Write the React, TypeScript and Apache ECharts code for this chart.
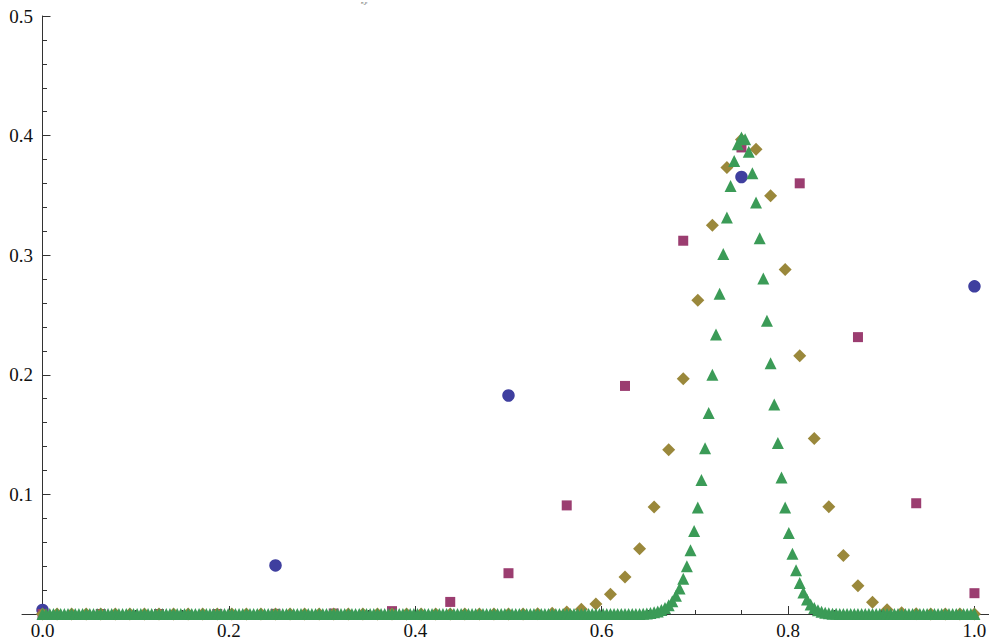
import React, { useEffect, useRef } from "react";
import * as echarts from "echarts";

// Scaled probabilities, one value per k = 0..n, plotted at x = k/n
const circleValues = [0.0034, 0.0406, 0.1827, 0.3654, 0.274]; // n = 4

const squareValues = [
  0, 0, 0, 0, 0.0001, 0.0004, 0.0024, 0.0101, 0.0341, 0.0908, 0.1907, 0.3121,
  0.3901, 0.3601, 0.2315, 0.0926, 0.0174,
]; // n = 16

const diamondValues = [
  0, 0, 0, 0, 0, 0, 0, 0, 0, 0, 0, 0, 0, 0, 0, 0, 0, 0, 0, 0, 0, 0, 0, 0, 0, 0,
  0, 0, 0, 0, 0, 0, 0,
  0.0001, 0.0003, 0.0007, 0.0017, 0.0039, 0.0083, 0.0166, 0.031, 0.0545,
  0.0895, 0.1374, 0.1967, 0.2623, 0.325, 0.3734, 0.3967, 0.3886, 0.3497,
  0.288, 0.216, 0.1467, 0.0897, 0.0489, 0.0236, 0.0099, 0.0036, 0.0011, 0.0003,
  0, 0, 0, 0,
]; // n = 64

const triangleValues = [
  0, 0, 0, 0, 0, 0, 0, 0, 0, 0, 0, 0, 0, 0, 0,
  0, 0, 0, 0, 0, 0, 0, 0, 0, 0, 0, 0, 0, 0, 0,
  0, 0, 0, 0, 0, 0, 0, 0, 0, 0, 0, 0, 0, 0, 0,
  0, 0, 0, 0, 0, 0, 0, 0, 0, 0, 0, 0, 0, 0, 0,
  0, 0, 0, 0, 0, 0, 0, 0, 0, 0, 0, 0, 0, 0, 0,
  0, 0, 0, 0, 0, 0, 0, 0, 0, 0, 0, 0, 0, 0, 0,
  0, 0, 0, 0, 0, 0, 0, 0, 0, 0, 0, 0, 0, 0, 0,
  0, 0, 0, 0, 0, 0, 0, 0, 0, 0, 0, 0, 0, 0, 0,
  0, 0, 0, 0, 0, 0, 0, 0, 0, 0, 0, 0, 0, 0, 0,
  0, 0, 0, 0, 0, 0, 0, 0, 0, 0, 0, 0, 0, 0, 0,
  0, 0, 0, 0, 0, 0, 0, 0, 0, 0, 0, 0, 0, 0, 0,
  0.0003, 0.0005, 0.0008, 0.0014, 0.0021, 0.0033, 0.005, 0.0073, 0.0107,
  0.0153, 0.0214, 0.0295, 0.04, 0.0532, 0.0694, 0.089, 0.1121, 0.1385, 0.1681,
  0.2001, 0.2337, 0.2678, 0.3009, 0.3315, 0.3579, 0.3788, 0.3928,
  0.3984,
  0.3969, 0.3865, 0.3686, 0.344, 0.3141, 0.2806, 0.2452, 0.2096, 0.1751,
  0.143, 0.1142, 0.089, 0.0678, 0.0504, 0.0366, 0.0259, 0.0179, 0.0121, 0.0079,
  0.005, 0.0031, 0.0019, 0.0011, 0.0006, 0.0003, 0.0002, 0.0001,
  0, 0, 0, 0, 0, 0, 0, 0, 0, 0, 0, 0, 0, 0, 0,
  0, 0, 0, 0, 0, 0, 0, 0, 0, 0, 0, 0, 0, 0, 0,
  0, 0, 0, 0, 0, 0, 0,
]; // n = 256

const xMajorTicks = [0, 0.2, 0.4, 0.6, 0.8, 1.0];
const xTickLabels = ["0.0", "0.2", "0.4", "0.6", "0.8", "1.0"];
const xMinorTicks = [
  0.05, 0.1, 0.15, 0.25, 0.3, 0.35, 0.45, 0.5, 0.55, 0.65, 0.7, 0.75, 0.85, 0.9,
  0.95,
];
const yTickLabels = ["", "0.1", "0.2", "0.3", "0.4", "0.5"];

const colors = {
  circle: "#3f3f9f",
  square: "#9b3d70",
  diamond: "#9a883b",
  triangle: "#3b9b57",
};

const toPoints = (vals: number[]) => {
  const n = vals.length - 1;
  return vals.map((v, k) => [k / n, v]);
};

const FONT = "'Liberation Serif', 'DejaVu Serif', serif";

export default function App() {
  const ref = useRef<HTMLDivElement>(null);
  useEffect(() => {
    if (!ref.current) return;
    const chart = echarts.init(ref.current, null, { renderer: "svg" });
    const axisColor = "#333333";
    const mk = (name: string, vals: number[], symbol: string, size: number, color: string, z: number) => ({
      name,
      type: "scatter",
      data: toPoints(vals),
      symbol,
      symbolSize: size,
      itemStyle: { color, opacity: 1 },
      clip: true,
      z,
      emphasis: { disabled: true },
    });
    chart.setOption({
      animation: false,
      backgroundColor: "#ffffff",
      grid: {
        left: 22,
        top: 16,
        width: 971.1,
        height: 598,
        containLabel: false,
        outerBoundsMode: "none",
      },
      xAxis: [
        {
          type: "value",
          min: -0.022,
          max: 1.02,
          splitLine: { show: false },
          axisLine: { show: true, onZero: true, lineStyle: { color: axisColor, width: 1 } },
          axisTick: {
            show: true,
            inside: true,
            length: 8,
            customValues: xMajorTicks,
            lineStyle: { color: axisColor },
          },
          minorTick: { show: false },
          axisLabel: {
            show: true,
            margin: 7,
            fontFamily: FONT,
            fontSize: 19,
            color: "#111",
            customValues: xMajorTicks,
            formatter: (v: number) => {
              const i = xMajorTicks.findIndex((t) => Math.abs(t - v) < 1e-6);
              return i >= 0 ? xTickLabels[i] : "";
            },
          },
        },
        {
          type: "value",
          min: -0.022,
          max: 1.02,
          position: "bottom",
          splitLine: { show: false },
          axisLine: { show: false, onZero: false },
          axisTick: {
            show: true,
            inside: true,
            length: 4,
            customValues: xMinorTicks,
            lineStyle: { color: axisColor },
          },
          axisLabel: { show: false },
        },
      ],
      yAxis: {
        type: "value",
        min: 0,
        max: 0.5,
        interval: 0.1,
        splitLine: { show: false },
        axisLine: { show: true, onZero: true, lineStyle: { color: axisColor, width: 1 } },
        axisTick: { show: true, inside: true, length: 8, lineStyle: { color: axisColor } },
        minorTick: { show: true, splitNumber: 5, length: 4.5, lineStyle: { color: axisColor } },
        axisLabel: {
          show: true,
          margin: -11,
          fontFamily: FONT,
          fontSize: 19,
          color: "#111",
          formatter: (v: number) => yTickLabels[Math.round(v / 0.1)] ?? "",
        },
      },
      graphic: [
        {
          type: "text",
          left: 361,
          top: 0,
          style: { text: "n,p", font: "italic 5px 'Liberation Serif'", fill: "#555" },
        },
      ],
      series: [
        mk("n=4", circleValues, "circle", 12.5, colors.circle, 2),
        mk("n=16", squareValues, "rect", 10, colors.square, 3),
        mk("n=64", diamondValues, "diamond", 13, colors.diamond, 4),
        mk("n=256", triangleValues, "triangle", 12, colors.triangle, 5),
      ],
    });
    return () => chart.dispose();
  }, []);
  return (
    <div
      ref={ref}
      style={{ position: "fixed", left: 0, top: 0, width: 989, height: 641, background: "#fff" }}
    />
  );
}
